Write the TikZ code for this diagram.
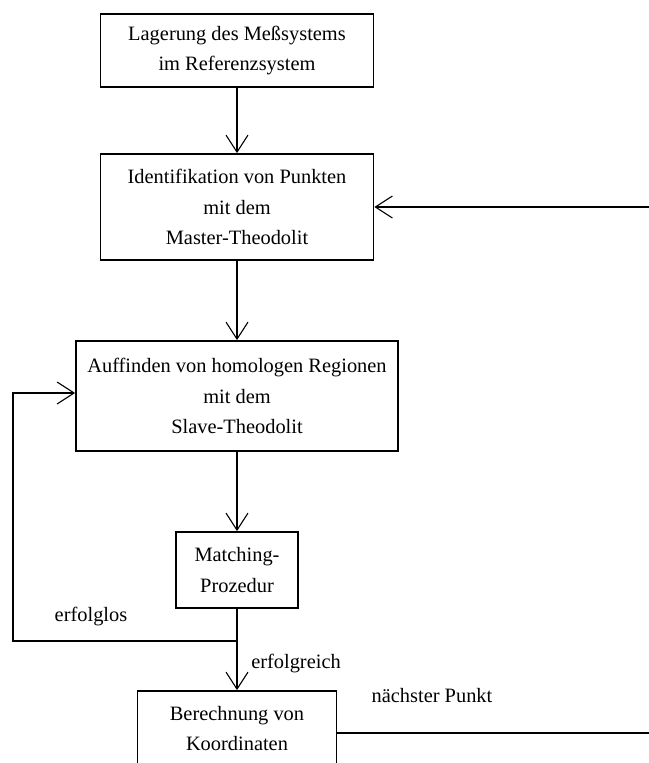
\documentclass[tikz,border=0pt]{standalone}
\usepackage{fontspec}
\setmainfont{Liberation Serif}
\usetikzlibrary{arrows.meta}
\begin{document}
\begin{tikzpicture}[x=1pt,y=-1pt,
  font=\fontsize{20.4}{30.5}\selectfont,
  box/.style={draw,line width=1.8pt,inner sep=0pt,align=center},
  conn/.style={line width=1.1pt},
  arr/.style={conn,-{Straight Barb[length=17pt,width=22pt,line width=1.1pt]}},
  lbl/.style={inner sep=0pt}]
\useasboundingbox (0,0) rectangle (648,763);
\node[box,minimum width=273pt,minimum height=73pt] (b1) at (237,50.5) {Lagerung des Meßsystems\\im Referenzsystem};
\node[box,minimum width=273pt,minimum height=106pt] (b2) at (237,207) {Identifikation von Punkten\\mit dem\\Master-Theodolit};
\node[box,minimum width=322pt,minimum height=110pt] (b3) at (237,396) {Auffinden von homologen Regionen\\mit dem\\Slave-Theodolit};
\node[box,minimum width=122pt,minimum height=76pt] (b4) at (237,570) {Matching-\\Prozedur};
\node[box,minimum width=199pt,minimum height=75pt] (b5) at (237,728.5) {Berechnung von\\Koordinaten};
\coordinate (j) at (237,641);
\coordinate (l) at (13,641);
\coordinate (r) at (670,500);
\draw[arr] (b1) -- (b2);
\draw[arr] (b2) -- (b3);
\draw[arr] (b3) -- (b4);
\draw[arr] (b4) -- (b5);
\draw[arr] (j) -- (l) |- ([yshift=3pt]b3.west);
\draw[arr] ([yshift=-4.5pt]b5.east) -| (r) |- (b2.east);
\node[lbl] (n1) at (91,617) {erfolglos};
\node[lbl] (n2) at (296,664) {erfolgreich};
\node[lbl] (n3) at (432,696) {nächster Punkt};
\end{tikzpicture}
\end{document}
